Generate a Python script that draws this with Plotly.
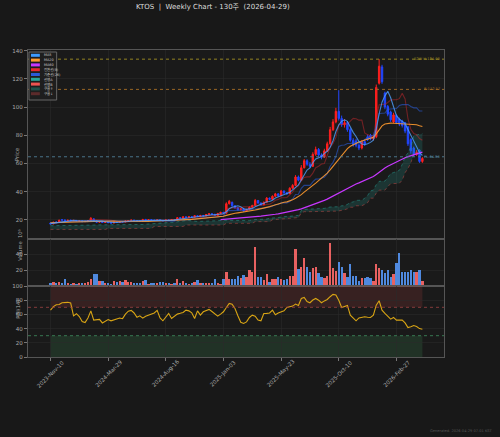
import plotly.graph_objects as go
import pandas as pd

# ---------------- data ----------------
WEEKS = pd.date_range("2023-11-10", periods=130, freq="7D")
TICK_IDX = [0, 20, 40, 60, 80, 100, 120]
TICK_LABELS = ["2023-Nov-10", "2024-Mar-29", "2024-Aug-16", "2025-Jan-03",
               "2025-May-23", "2025-Oct-10", "2026-Feb-27"]

OPEN = [17.8, 17.2, 18.6, 18.1, 20.2, 20.0, 19.4, 19.9, 19.5, 19.7,
        19.2, 19.3, 18.8, 19.0, 19.6, 20.8, 19.4, 18.4, 18.8, 18.2,
        18.5, 18.1, 17.8, 18.5, 18.2, 18.9, 18.6, 19.3, 19.6, 19.9,
        19.6, 19.3, 19.1, 20.4, 19.8, 20.2, 19.9, 19.6, 20.0, 19.7,
        19.4, 20.0, 19.8, 20.3, 20.0, 21.6, 21.2, 22.2, 21.8, 22.3,
        22.0, 23.0, 22.4, 23.2, 22.9, 23.8, 24.4, 24.0, 23.2, 24.6,
        25.4, 24.8, 31.5, 32.5, 30.0, 28.6, 27.2, 27.9, 26.4, 27.5,
        29.0, 30.2, 33.8, 32.0, 30.8, 32.5, 35.5, 34.6, 36.8, 38.5,
        37.2, 40.5, 39.2, 38.6, 42.5, 44.5, 50.5, 48.2, 57.0, 62.0,
        59.5, 58.0, 66.5, 70.0, 66.0, 64.5, 69.0, 74.0, 84.0, 89.5,
        97.0, 92.0, 87.5, 89.0, 84.0, 76.5, 76.0, 73.0, 71.0, 75.5,
        79.0, 80.0, 77.5, 79.0, 117.0, 128.5, 110.0, 100.5, 96.5, 89.5,
        94.0, 91.5, 90.0, 89.0, 86.0, 77.0, 71.0, 66.5, 69.5, 61.5]
HIGH = [18.3, 18.8, 19.0, 20.2, 20.6, 20.3, 20.1, 20.1, 20.0, 19.9,
        19.7, 19.5, 19.3, 19.9, 22.0, 21.0, 19.6, 19.1, 19.0, 18.8,
        18.7, 18.3, 18.8, 18.7, 19.2, 19.1, 19.6, 19.9, 20.2, 20.1,
        19.8, 19.5, 20.8, 20.6, 20.5, 20.4, 20.1, 20.3, 20.2, 19.9,
        20.3, 20.2, 20.6, 20.5, 22.0, 21.9, 22.6, 22.4, 22.6, 22.5,
        23.4, 23.2, 23.6, 23.5, 24.2, 24.8, 24.7, 24.3, 25.0, 25.8,
        25.7, 32.5, 34.2, 33.0, 30.4, 29.0, 28.4, 28.1, 27.9, 29.5,
        30.8, 34.9, 34.2, 32.4, 33.1, 36.2, 35.9, 37.4, 39.2, 38.9,
        41.3, 41.0, 39.8, 43.2, 45.4, 51.8, 51.5, 58.9, 63.2, 63.0,
        61.0, 68.0, 72.0, 71.0, 67.2, 70.5, 75.5, 86.0, 91.5, 99.5,
        112.0, 94.0, 91.5, 90.0, 85.0, 78.0, 77.5, 74.5, 76.5, 77.0,
        80.5, 81.0, 80.5, 116.0, 134.0, 130.0, 111.0, 101.5, 97.5, 96.0,
        95.0, 92.5, 91.0, 89.5, 86.5, 78.0, 72.0, 69.5, 70.0, 64.5]
LOW = [16.9, 17.0, 17.8, 18.0, 19.5, 19.1, 19.2, 19.2, 19.3, 19.0,
       19.0, 18.6, 18.6, 18.8, 19.4, 19.1, 18.0, 18.1, 17.9, 18.0,
       17.8, 17.5, 17.6, 17.9, 18.0, 18.3, 18.4, 19.1, 19.4, 19.3,
       19.0, 18.8, 19.0, 19.5, 19.6, 19.6, 19.3, 19.4, 19.4, 19.1,
       19.2, 19.5, 19.6, 19.7, 19.9, 20.9, 21.0, 21.5, 21.6, 21.7,
       21.8, 22.1, 22.2, 22.6, 22.7, 23.6, 23.7, 22.9, 23.0, 24.3,
       24.4, 24.6, 31.0, 29.5, 28.0, 26.8, 26.9, 25.9, 26.1, 27.2,
       28.7, 30.0, 31.5, 30.2, 30.5, 32.3, 34.0, 34.3, 36.5, 36.6,
       37.0, 38.6, 37.9, 38.4, 42.0, 44.2, 47.4, 47.9, 56.5, 58.4,
       57.0, 57.6, 65.5, 64.8, 63.0, 64.0, 68.2, 73.5, 83.0, 88.5,
       90.5, 86.0, 85.5, 82.5, 75.5, 72.0, 71.5, 69.5, 70.0, 72.5,
       76.0, 76.5, 76.5, 78.0, 116.0, 116.5, 98.5, 93.5, 89.5, 88.5,
       88.0, 86.5, 85.5, 81.5, 72.5, 67.0, 65.0, 65.5, 60.5, 60.5]
CLOSE = [17.2, 18.4, 18.1, 19.8, 19.9, 19.4, 19.8, 19.5, 19.7, 19.2,
         19.4, 18.8, 19.0, 19.6, 21.2, 19.4, 18.4, 18.8, 18.2, 18.5,
         18.1, 17.8, 18.5, 18.2, 18.9, 18.6, 19.3, 19.6, 19.9, 19.6,
         19.3, 19.1, 20.3, 19.8, 20.2, 19.9, 19.6, 20.0, 19.7, 19.4,
         20.0, 19.8, 20.3, 20.0, 21.6, 21.2, 22.2, 21.8, 22.3, 22.0,
         23.0, 22.4, 23.2, 22.9, 23.8, 24.4, 24.0, 23.2, 24.6, 25.4,
         24.8, 31.5, 33.2, 30.0, 28.6, 27.2, 27.9, 26.4, 27.5, 29.0,
         30.2, 33.8, 32.0, 30.8, 32.5, 35.5, 34.6, 36.8, 38.5, 37.2,
         40.5, 39.2, 38.6, 42.5, 44.5, 50.5, 48.2, 57.0, 62.0, 59.5,
         58.0, 66.5, 70.0, 66.0, 64.5, 69.0, 74.0, 84.0, 89.5, 97.0,
         92.0, 87.5, 89.0, 84.0, 76.5, 73.5, 73.0, 71.0, 75.5, 74.0,
         77.0, 77.5, 79.0, 114.0, 129.0, 118.0, 100.0, 95.0, 91.0, 94.5,
         89.0, 88.0, 87.0, 83.0, 74.0, 69.0, 66.5, 68.0, 61.5, 63.6]
# volume in millions
VOLUME = [4.2, 5.4, 3.3, 5.4, 4.2, 8.3, 3.3, 2.5, 3.3, 2.5,
          3.3, 4.2, 3.3, 5.4, 9.2, 14.6, 14.6, 6.3, 6.3, 4.2,
          3.3, 2.9, 6.3, 5.0, 6.3, 4.6, 7.1, 5.0, 4.6, 3.3,
          3.3, 3.3, 6.7, 7.5, 2.5, 3.3, 4.2, 3.3, 4.6, 4.6,
          3.3, 3.3, 2.5, 3.3, 9.2, 3.3, 6.7, 3.3, 2.5, 3.3,
          5.4, 7.5, 4.2, 3.3, 4.2, 3.3, 3.3, 9.2, 3.3, 2.5,
          9.2, 17.5, 9.2, 8.3, 8.3, 12.5, 10.4, 13.8, 11.7, 20.0,
          17.0, 48.3, 11.7, 10.8, 7.5, 15.0, 5.4, 8.3, 8.3, 10.8,
          8.3, 7.5, 8.3, 12.5, 12.5, 45.8, 20.8, 23.3, 34.6, 23.3,
          17.9, 22.1, 23.3, 16.7, 11.7, 10.4, 12.5, 53.3, 22.1, 19.2,
          30.4, 24.2, 16.7, 11.3, 27.5, 12.9, 12.5, 6.7, 10.4, 9.6,
          10.8, 10.4, 6.7, 27.9, 22.1, 20.0, 16.7, 19.6, 11.7, 15.4,
          28.3, 40.8, 17.1, 17.9, 17.9, 20.0, 17.1, 17.9, 20.4, 6.7]
RSI = [66.0, 71.0, 73.5, 74.0, 76.5, 77.0, 77.0, 76.0, 58.0, 61.0,
       57.0, 50.0, 48.5, 55.0, 65.0, 52.0, 52.0, 53.0, 48.0, 50.5,
       52.8, 51.0, 52.4, 53.5, 55.0, 54.0, 60.4, 64.6, 65.6, 62.0,
       56.0, 58.0, 54.7, 57.5, 59.0, 59.4, 62.0, 65.6, 55.0, 51.0,
       57.0, 61.3, 54.2, 58.0, 60.4, 61.5, 62.7, 66.0, 65.0, 62.3,
       54.2, 65.0, 59.0, 63.7, 65.0, 67.0, 64.0, 61.3, 57.5, 60.4,
       63.7, 69.8, 75.5, 74.5, 68.4, 58.0, 49.0, 47.2, 49.5, 55.7,
       59.0, 57.5, 52.0, 51.0, 61.3, 61.5, 62.0, 66.0, 59.4, 62.0,
       63.7, 65.0, 69.8, 70.5, 71.7, 74.5, 72.6, 82.5, 84.0, 78.0,
       76.4, 80.2, 82.5, 80.0, 76.4, 79.0, 81.0, 84.9, 88.2, 87.3,
       80.0, 69.8, 71.7, 72.6, 59.0, 54.2, 51.0, 55.0, 56.0, 56.6,
       56.0, 55.7, 59.0, 73.0, 79.2, 66.0, 61.3, 57.5, 53.3, 55.7,
       51.9, 52.0, 51.9, 48.1, 41.5, 42.5, 44.3, 43.0, 40.0, 39.2]
MA5 = [17.4, 17.7, 17.9, 18.3, 18.7, 19.1, 19.4, 19.7, 19.7, 19.5,
       19.5, 19.3, 19.2, 19.2, 19.6, 19.6, 19.5, 19.5, 19.2, 18.7,
       18.4, 18.3, 18.2, 18.2, 18.3, 18.4, 18.7, 18.9, 19.3, 19.4,
       19.5, 19.5, 19.6, 19.6, 19.7, 19.9, 20.0, 19.9, 19.9, 19.7,
       19.7, 19.8, 19.8, 19.9, 20.3, 20.6, 21.1, 21.4, 21.8, 21.9,
       22.3, 22.3, 22.6, 22.7, 23.1, 23.3, 23.7, 23.7, 24.0, 24.3,
       24.4, 25.9, 27.9, 29.0, 29.6, 30.1, 29.4, 28.0, 27.5, 27.6,
       28.2, 29.4, 30.5, 31.2, 31.9, 32.9, 33.1, 34.0, 35.6, 36.5,
       37.5, 38.4, 38.8, 39.6, 41.1, 43.1, 44.9, 48.5, 52.4, 55.4,
       56.9, 60.6, 63.2, 64.0, 65.0, 67.2, 68.7, 71.5, 76.2, 82.7,
       87.3, 90.0, 91.0, 89.9, 85.8, 82.1, 79.2, 75.6, 73.9, 73.4,
       74.1, 75.0, 76.6, 84.3, 95.3, 103.5, 108.0, 111.2, 106.6, 99.7,
       93.9, 91.5, 89.9, 88.3, 84.2, 80.2, 75.9, 72.1, 67.8, 65.7]
MA20 = [18.0, 18.1, 18.1, 18.2, 18.3, 18.4, 18.5, 18.5, 18.6, 18.7,
        18.7, 18.8, 18.8, 18.9, 19.0, 19.0, 19.0, 19.1, 19.1, 19.1,
        19.16, 19.13, 19.15, 19.07, 19.02, 18.98, 18.96, 18.96, 18.97, 18.99,
        18.99, 19.0, 19.07, 19.08, 19.03, 19.05, 19.11, 19.17, 19.25, 19.29,
        19.39, 19.49, 19.58, 19.67, 19.8, 19.93, 20.08, 20.19, 20.31, 20.43,
        20.61, 20.78, 20.92, 21.08, 21.26, 21.48, 21.7, 21.86, 22.1, 22.4,
        22.65, 23.23, 23.88, 24.38, 24.73, 25.03, 25.31, 25.54, 25.8, 26.15,
        26.51, 27.08, 27.52, 27.92, 28.35, 28.9, 29.44, 30.12, 30.81, 31.4,
        32.19, 32.57, 32.84, 33.47, 34.26, 35.43, 36.44, 37.97, 39.7, 41.22,
        42.61, 44.25, 46.15, 47.91, 49.51, 51.18, 53.15, 55.51, 58.06, 61.05,
        63.63, 66.04, 68.56, 70.64, 72.24, 73.39, 74.63, 75.33, 76.0, 76.73,
        77.68, 78.23, 78.68, 81.08, 84.3, 86.75, 88.05, 88.6, 88.68, 88.55,
        88.4, 88.43, 88.33, 88.28, 88.15, 87.93, 87.6, 87.45, 86.75, 86.23]
MA60 = [None] * 59 + [
        20.27, 20.40, 20.62, 20.87, 21.04, 21.18, 21.31, 21.45, 21.56, 21.69, 21.86,
        22.04, 22.29, 22.5, 22.69, 22.88, 23.15, 23.42, 23.72, 24.05, 24.37,
        24.74, 25.1, 25.43, 25.84, 26.26, 26.79, 27.28, 27.9, 28.6, 29.27,
        29.91, 30.7, 31.53, 32.3, 33.04, 33.86, 34.76, 35.83, 36.99, 38.29,
        39.49, 40.61, 41.76, 42.83, 43.74, 44.61, 45.46, 46.28, 47.17, 48.03,
        48.93, 49.85, 50.78, 52.3, 54.05, 55.61, 56.88, 58.08, 59.18, 60.33,
        61.4, 62.35, 63.24, 64.13, 64.88, 65.58, 66.22, 66.92, 67.48, 68.06]
TENKAN = [17.6, 17.85, 17.95, 18.55, 18.75, 18.75, 18.75, 18.75, 18.75, 18.8,
          19.2, 19.3, 19.6, 19.45, 20.3, 20.3, 20.0, 20.0, 19.95, 19.95,
          19.9, 19.75, 19.75, 19.25, 18.55, 18.35, 18.55, 18.7, 18.85, 18.85,
          18.9, 19.05, 19.4, 19.55, 19.6, 19.8, 19.8, 19.8, 19.8, 19.8,
          19.9, 19.85, 19.85, 19.85, 20.55, 20.55, 20.85, 20.85, 20.9, 21.05,
          21.5, 21.55, 21.75, 22.25, 22.6, 23.15, 23.2, 23.25, 23.4, 23.95,
          24.0, 27.55, 28.45, 28.55, 28.55, 28.55, 28.6, 29.25, 29.3, 29.4,
          30.05, 30.4, 30.4, 30.4, 30.4, 31.05, 31.15, 32.3, 33.95, 34.6,
          35.75, 35.75, 35.9, 37.75, 39.7, 43.05, 44.15, 47.75, 50.1, 50.55,
          50.55, 53.2, 57.0, 58.1, 59.7, 59.95, 66.0, 71.5, 74.25, 78.55,
          87.5, 87.5, 87.5, 88.0, 90.1, 92.0, 91.75, 90.75, 90.75, 81.75,
          80.5, 79.75, 77.25, 92.75, 101.75, 101.75, 102.0, 103.25, 105.0, 105.25,
          105.25, 106.0, 109.75, 105.75, 91.75, 84.25, 81.25, 80.5, 77.75, 76.5]
KIJUN = [17.6, 17.85, 17.95, 18.55, 18.75, 18.75, 18.75, 18.75, 18.75, 18.75,
         18.75, 18.75, 18.75, 18.75, 19.45, 19.45, 19.45, 19.45, 19.45, 19.45,
         19.45, 19.45, 19.45, 19.45, 19.45, 19.45, 19.5, 19.75, 19.75, 19.75,
         19.75, 19.75, 19.75, 19.75, 19.75, 19.75, 19.75, 19.75, 19.75, 19.75,
         19.25, 19.15, 19.15, 19.15, 19.75, 19.75, 20.05, 20.1, 20.25, 20.3,
         20.85, 20.9, 21.2, 21.2, 21.5, 21.8, 21.8, 21.9, 22.05, 22.45,
         22.45, 25.8, 26.65, 26.65, 26.65, 26.7, 26.85, 26.9, 26.95, 27.05,
         27.55, 27.95, 28.2, 28.25, 28.3, 29.0, 29.15, 29.8, 30.9, 30.95,
         32.1, 32.1, 32.1, 33.1, 34.85, 38.1, 38.2, 42.4, 44.55, 44.55,
         44.55, 46.95, 48.95, 49.05, 49.6, 50.35, 52.75, 58.1, 60.85, 65.0,
         72.15, 73.0, 73.15, 74.25, 74.3, 74.5, 74.95, 74.95, 75.2, 77.0,
         78.1, 79.7, 79.95, 86.25, 95.5, 95.5, 95.8, 98.5, 98.5, 98.5,
         99.0, 101.1, 101.75, 101.75, 101.75, 100.5, 99.5, 99.5, 97.25, 97.25]
SPAN_A = [15.9, 15.9, 16.0, 16.0, 16.1, 16.1, 16.2, 16.2, 16.2, 16.3,
          16.3, 16.3, 16.4, 16.4, 16.4, 16.4, 16.5, 16.5, 16.5, 16.6,
          16.6, 16.6, 16.6, 16.5, 16.5, 16.4, 16.4, 16.4, 16.4, 16.4,
          16.5, 16.6, 16.8, 17.0, 17.2, 17.4, 17.6, 17.8, 17.9, 18.0,
          18.1, 18.2, 18.3, 18.4, 18.7, 19.2, 19.68, 19.6, 19.6, 19.35,
          19.0, 18.9, 19.03, 19.23, 19.3, 19.3, 19.33, 19.4, 19.58, 19.65,
          19.68, 19.78, 19.78, 19.78, 19.78, 19.78, 19.58, 19.5, 19.5, 19.5,
          20.15, 20.15, 20.45, 20.48, 20.58, 20.68, 21.18, 21.23, 21.48, 21.73,
          22.05, 22.48, 22.5, 22.58, 22.73, 23.2, 23.23, 26.68, 27.55, 27.6,
          27.6, 27.63, 27.73, 28.08, 28.13, 28.23, 28.8, 29.18, 29.3, 29.33,
          29.35, 30.03, 30.15, 31.05, 32.43, 32.78, 33.93, 33.93, 34.0, 35.43,
          37.28, 40.58, 41.18, 45.08, 47.33, 47.55, 47.55, 50.08, 52.98, 53.58,
          54.65, 55.15, 59.38, 64.8, 67.55, 71.78, 79.83, 80.25, 80.33, 81.13]
SPAN_B = [13.3, 13.3, 13.3, 13.3, 13.3, 13.3, 13.3, 13.3, 13.3, 13.3,
          13.3, 13.3, 13.3, 13.3, 13.3, 13.3, 13.3, 13.3, 13.3, 13.3,
          14.0, 14.0, 14.0, 14.0, 14.0, 14.0, 14.0, 14.0, 14.0, 14.0,
          14.0, 14.0, 14.0, 14.0, 14.0, 14.0, 15.4, 15.4, 15.4, 15.4,
          15.4, 15.4, 15.4, 15.4, 15.4, 15.4, 15.4, 16.4, 16.4, 16.4,
          16.4, 16.4, 16.4, 16.4, 16.4, 16.4, 16.4, 16.4, 16.4, 16.4,
          16.4, 17.6, 17.6, 17.6, 17.6, 17.6, 17.6, 17.6, 17.6, 17.6,
          17.6, 18.8, 18.8, 18.8, 18.8, 18.8, 18.8, 20.15, 20.3, 20.55,
          20.85, 21.15, 21.15, 21.15, 21.25, 21.65, 21.65, 25.0, 25.85, 25.85,
          25.85, 25.85, 25.85, 25.85, 25.85, 25.85, 25.85, 26.2, 26.2, 26.25,
          26.4, 27.1, 27.25, 27.9, 29.0, 29.0, 30.05, 30.05, 30.05, 31.1,
          32.25, 35.45, 35.45, 39.0, 41.15, 41.15, 41.15, 43.6, 45.75, 45.8,
          45.85, 45.95, 48.2, 53.5, 56.5, 60.55, 66.85, 66.9, 67.05, 67.1]

LEVELS = [134.00, 112.57, 64.80]
LEVEL_LABELS = ["52W H:134.00", "R:112.57", "PL:64.80"]
LEVEL_COLORS = ["#a08e22", "#a86f26", "#4f7f96"]

LEGEND_NAMES = ["MA5", "MA20", "MA60", "전환선(9)", "기준선(26)", "선행A", "선행B", "구름↑", "구름↓"]
LEGEND_COLORS = ["#3d9bff", "#ff9a2e", "#c837ff", "#e8262d", "#2a5bd7",
                 "#26a69a", "#ef5350", "#1f5049", "#5c2b2b"]

TITLE = "KTOS  |  Weekly Chart - 130주  (2026-04-29)"
FOOTER = "Generated: 2026-04-29 07:01 KST"

# ---------------- figure ----------------
x = list(range(len(CLOSE)))
FONT = "DejaVu Sans, Noto Sans CJK KR, sans-serif"
W, H = 500, 437
L, R, T, B = 23, 56, 50, 80
PW, PH = W - L - R, H - T - B


def px(xp):
    return (xp - L) / PW


def py(yp):
    return (H - B - yp) / PH


fig = go.Figure()

# Ichimoku cloud
fig.add_trace(go.Scatter(x=x, y=SPAN_B, mode="lines", hoverinfo="skip",
                         line=dict(color="rgba(239,83,80,0.5)", width=0.8, dash="dot"),
                         xaxis="x", yaxis="y"))
fig.add_trace(go.Scatter(x=x, y=SPAN_A, mode="lines", hoverinfo="skip",
                         line=dict(color="rgba(38,166,154,0.6)", width=0.8, dash="dot"),
                         fill="tonexty", fillcolor="rgba(38,166,154,0.2)",
                         xaxis="x", yaxis="y"))

# candles
fig.add_trace(go.Candlestick(x=x, open=OPEN, high=HIGH, low=LOW, close=CLOSE,
                             increasing=dict(line=dict(color="#ff1f1f", width=1), fillcolor="#ff1f1f"),
                             decreasing=dict(line=dict(color="#2146ff", width=1), fillcolor="#2146ff"),
                             whiskerwidth=0, xaxis="x", yaxis="y"))

# moving averages / ichimoku lines
fig.add_trace(go.Scatter(x=x, y=TENKAN, mode="lines", line=dict(color="rgba(200,40,45,0.5)", width=1.1),
                         xaxis="x", yaxis="y"))
fig.add_trace(go.Scatter(x=x, y=KIJUN, mode="lines", line=dict(color="rgba(42,91,215,0.6)", width=1.1),
                         xaxis="x", yaxis="y"))
fig.add_trace(go.Scatter(x=x, y=MA60, mode="lines", line=dict(color="#c837ff", width=1.2),
                         xaxis="x", yaxis="y"))
fig.add_trace(go.Scatter(x=x, y=MA20, mode="lines", line=dict(color="rgba(255,154,46,0.9)", width=1.1),
                         xaxis="x", yaxis="y"))
fig.add_trace(go.Scatter(x=x, y=MA5, mode="lines", line=dict(color="rgba(77,160,255,0.8)", width=1.1),
                         xaxis="x", yaxis="y"))

# volume
vol_colors = ["rgba(255,105,105,0.9)" if c >= o else "rgba(85,150,245,0.9)" for o, c in zip(OPEN, CLOSE)]
fig.add_trace(go.Bar(x=x, y=VOLUME, marker=dict(color=vol_colors, line=dict(width=0)), width=0.8,
                     xaxis="x2", yaxis="y2"))

# RSI
fig.add_trace(go.Scatter(x=x, y=RSI, mode="lines", line=dict(color="#d9a514", width=1.1),
                         xaxis="x3", yaxis="y3"))

shapes = []
annotations = []

# RSI zones
shapes.append(dict(type="rect", xref="x3", yref="y3", x0=x[0], x1=x[-1], y0=70, y1=100,
                   fillcolor="rgba(200,70,70,0.17)", line=dict(width=0), layer="below"))
shapes.append(dict(type="rect", xref="x3", yref="y3", x0=x[0], x1=x[-1], y0=0, y1=30,
                   fillcolor="rgba(70,170,100,0.17)", line=dict(width=0), layer="below"))
shapes.append(dict(type="line", xref="x3 domain", yref="y3", x0=0, x1=1, y0=70, y1=70,
                   line=dict(color="#a04444", width=0.8, dash="dot")))
shapes.append(dict(type="line", xref="x3 domain", yref="y3", x0=0, x1=1, y0=30, y1=30,
                   line=dict(color="#3f8f5f", width=0.8, dash="dot")))

# price levels
for lv, lab, col in zip(LEVELS, LEVEL_LABELS, LEVEL_COLORS):
    shapes.append(dict(type="line", xref="x domain", yref="y", x0=0, x1=1, y0=lv, y1=lv,
                       line=dict(color=col, width=0.9, dash="dot")))
    annotations.append(dict(xref="paper", yref="y", x=px(442), y=lv, text=lab, showarrow=False,
                            xanchor="right", yanchor="middle",
                            font=dict(size=3.6, color=col, family=FONT)))

# manual legend
shapes.append(dict(type="rect", xref="paper", yref="paper", x0=px(24), x1=px(52), y0=py(100), y1=py(52),
                   fillcolor="#1e1e1e", line=dict(color="#666666", width=1)))
for k, (nm, col) in enumerate(zip(LEGEND_NAMES, LEGEND_COLORS)):
    yc = 55.3 + 4.8 * k
    shapes.append(dict(type="rect", xref="paper", yref="paper", x0=px(26), x1=px(35),
                       y0=py(yc + 1.5), y1=py(yc - 1.5), fillcolor=col, line=dict(width=0)))
    annotations.append(dict(xref="paper", yref="paper", x=px(37), y=py(yc), text=nm, showarrow=False,
                            xanchor="left", yanchor="middle",
                            font=dict(size=3.4, color="#cccccc", family=FONT)))

# x tick labels (rotated, centered on the tick)
for ti, tl in zip(TICK_IDX, TICK_LABELS):
    annotations.append(dict(xref="x3", yref="paper", x=ti, y=py(373.5), text=tl, showarrow=False,
                            textangle=-45, xanchor="center", yanchor="middle",
                            font=dict(size=5.5, color="#aaaaaa", family=FONT)))

# axis titles
annotations.append(dict(xref="paper", yref="paper", x=px(7), y=py(145), text="Price", showarrow=False,
                        textangle=-90, font=dict(size=5.5, color="#aaaaaa", family=FONT)))
annotations.append(dict(xref="paper", yref="paper", x=px(9), y=py(263), text="Volume  10⁶", showarrow=False,
                        textangle=-90, font=dict(size=5.2, color="#aaaaaa", family=FONT)))
annotations.append(dict(xref="paper", yref="paper", x=px(7), y=py(321), text="RSI(14)", showarrow=False,
                        textangle=-90, font=dict(size=5.2, color="#aaaaaa", family=FONT)))

# title + footer
annotations.append(dict(xref="paper", yref="paper", x=px(210), y=py(7), text=TITLE, showarrow=False,
                        xanchor="center", yanchor="middle", font=dict(size=7, color="#dddddd", family=FONT)))
annotations.append(dict(xref="paper", yref="paper", x=px(496), y=py(431), text=FOOTER, showarrow=False,
                        xanchor="right", yanchor="middle", font=dict(size=3.6, color="#555555", family=FONT)))

axc = dict(showline=True, linecolor="#555555", linewidth=1.2, mirror=True,
           gridcolor="#2a2a2a", gridwidth=0.6, zeroline=False,
           tickfont=dict(size=5.5, color="#aaaaaa", family=FONT), tickcolor="#777777", ticklen=3)
XR = [-7.8, 136.5]
d_rsi = [0, py(286)]
d_vol = [py(286), py(239)]
d_px = [py(239), 1]

fig.update_layout(
    width=W, height=H, margin=dict(l=L, r=R, t=T, b=B),
    paper_bgcolor="#181818", plot_bgcolor="#1a1a1a",
    showlegend=False, bargap=0, hovermode=False,
    font=dict(family=FONT, size=5.5, color="#aaaaaa"),
    xaxis=dict(domain=[0, 1], anchor="y", range=XR, tickvals=TICK_IDX, showticklabels=False, ticks="",
               rangeslider=dict(visible=False), **axc),
    xaxis2=dict(domain=[0, 1], anchor="y2", range=XR, tickvals=TICK_IDX, showticklabels=False, ticks="", **axc),
    xaxis3=dict(domain=[0, 1], anchor="y3", range=XR, tickvals=TICK_IDX, showticklabels=False,
                ticks="outside", **axc),
    yaxis=dict(domain=d_px, anchor="x", range=[6.5, 140.5], tickvals=[20, 40, 60, 80, 100, 120, 140],
               ticks="outside", **axc),
    yaxis2=dict(domain=d_vol, anchor="x2", range=[0, 58.75], tickvals=[20, 40], ticks="outside", **axc),
    yaxis3=dict(domain=d_rsi, anchor="x3", range=[0, 100], tickvals=[0, 20, 40, 60, 80, 100],
                ticks="outside", **axc),
    shapes=shapes, annotations=annotations,
)

fig.write_html("out.html",
               config={"displayModeBar": False, "staticPlot": True},
               post_script="document.body.style.margin='0';document.body.style.padding='0';"
                           "document.body.style.background='#181818';"
                           "document.documentElement.style.overflow='hidden';")
